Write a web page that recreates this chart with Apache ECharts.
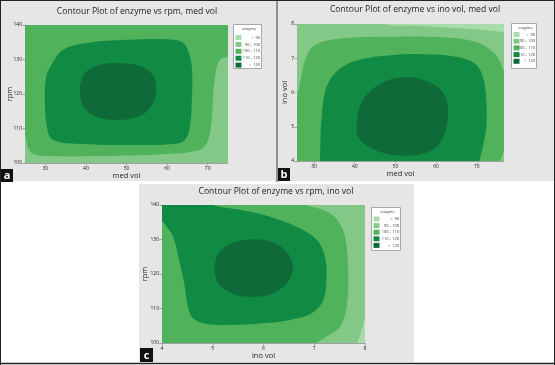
<!DOCTYPE html>
<html><head><meta charset="utf-8">
<script src="https://cdn.jsdelivr.net/npm/echarts@6/dist/echarts.min.js"></script>
<style>html,body{margin:0;padding:0;background:#fff}#c{width:555px;height:365px}</style>
</head><body><div id="c"></div>
<script>
// ---------- DATA ----------
const levelLabels = ['<  90', '90 \u2013 100', '100 \u2013 110', '110 \u2013 120', '>  120'];

// Panel a: enzyme vs rpm, med vol
const aTitle = 'Contour Plot of enzyme vs rpm, med vol';
const aXName = 'med vol', aYName = 'rpm';
const aXRange = [25, 75], aYRange = [100, 140];
const aXTicks = [30, 40, 50, 60, 70];
const aYTicks = [100, 110, 120, 130, 140];
const aLevel100_110 = [[25,100],[75,100],[75,140],[25,140]];
const aLevel90_100 = [[78,132.5],[75,130.7],[73,129.9],[71.8,124.9],[71.3,118.3],[70.8,110.4],[69.8,105.8],[68.1,103.8],[60,102.6],[43.5,102.0],[31.2,102.0],[27,102.6],[25.7,104.6],[25,108.1],[23,111],[22,97],[78,97]];
const aLevel110_120 = [[31.2,127.8],[34.4,132.8],[40.3,134.8],[50.1,135.7],[60.0,135.9],[63.7,135.1],[65.1,132.8],[66.1,127.8],[66.1,118.3],[65.6,110.4],[64.4,106.7],[61.5,105.5],[51.6,105.2],[39.3,105.5],[31.9,106.7],[30.4,110.4],[29.9,118.3],[30.2,124.9]];
const aLevelAbove120 = [[38.5,121.2],[39.8,126.1],[43.5,128.4],[47.9,129.0],[53.3,128.1],[56.5,125.5],[57.3,121.7],[56.5,117.4],[53.8,113.9],[48.4,112.5],[42.7,113.3],[39.5,116.2]];

// Panel b: enzyme vs ino vol, med vol
const bTitle = 'Contour Plot of enzyme vs ino vol, med vol';
const bXName = 'med vol', bYName = 'ino vol';
const bXRange = [25.8, 76.7], bYRange = [4, 8];
const bXTicks = [30, 40, 50, 60, 70];
const bYTicks = [4, 5, 6, 7, 8];
const bLevel90_100 = [[25.8,4],[76.7,4],[76.7,8],[25.8,8]];
const bLevel100_110 = [[23,5.1],[25.73,5.88],[26.54,6.27],[27.76,6.95],[30.22,7.39],[36.77,7.58],[49.04,7.63],[61.31,7.61],[69.48,7.48],[74.39,7.14],[76.7,6.61],[79,5.8],[79,3.4],[23,3.4]];
const bLevel90_100corner = [[78,4.5],[76.7,4.28],[76.0,4.08],[75.6,3.9],[78,3.6]];
const bLevelBelow90 = [[44,8.4],[47.4,8.0],[55,7.95],[65,7.88],[72,7.82],[76.7,7.77],[79,7.72],[79,8.4]];
const bLevel110_120 = [[31.3,3.4],[31.44,4.0],[31.86,5.29],[33.09,6.17],[35.94,6.66],[40.84,6.95],[49.04,7.09],[57.21,7.12],[64.57,7.05],[69.48,6.85],[71.52,6.46],[72.35,5.78],[72.35,5.0],[71.52,4.42],[70.71,4.0],[70.6,3.4]];
const bLevelAbove120 = [[40.45,5.00],[41.26,5.59],[44.13,6.07],[48.21,6.36],[51.89,6.44],[56.40,6.39],[60.48,6.15],[62.54,5.78],[62.93,5.34],[62.12,4.81],[59.67,4.37],[54.76,4.17],[48.21,4.20],[43.30,4.42],[40.84,4.71]];

// Panel c: enzyme vs rpm, ino vol
const cTitle = 'Contour Plot of enzyme vs rpm, ino vol';
const cXName = 'ino vol', cYName = 'rpm';
const cXRange = [4, 8], cYRange = [100, 140];
const cXTicks = [4, 5, 6, 7, 8];
const cYTicks = [100, 110, 120, 130, 140];
const cLevel100_110 = [[4,100],[8,100],[8,140],[4,140]];
const cLevel90_100 = [[6.6,141.5],[6.85,140],[7.31,137.6],[7.54,133.7],[7.64,127.9],[7.67,118.3],[7.64,110.5],[7.51,104.7],[7.24,101.8],[7.05,100],[6.95,98.5],[8.5,98.5],[8.5,141.5]];
const cLevelBelow90 = [[8.5,107.5],[8.0,106.7],[7.95,104.5],[7.9,102],[7.84,100],[7.8,98.5],[8.5,98.5]];
const cLevel110_120 = [[5.0,141.5],[5.01,140],[5.53,138.6],[6.13,136.6],[6.65,133.7],[7.05,129.9],[7.21,125.0],[7.24,118.3],[7.18,112.5],[6.95,108.6],[6.52,106.7],[5.99,105.7],[5.34,105.2],[4.88,105.5],[4.61,107.2],[4.51,110.5],[4.45,116.3],[4.35,123.1],[4.22,130.8],[4.09,133.7],[4.0,135.2],[3.6,136],[3.6,141.5]];
const cLevelAbove120 = [[5.04,122.1],[5.11,126.0],[5.34,128.7],[5.67,129.9],[6.06,129.7],[6.39,127.4],[6.55,124.1],[6.57,120.7],[6.46,117.3],[6.19,114.4],[5.86,113.4],[5.47,113.9],[5.17,116.3],[5.06,119.2]];

// level index of each region (0:<90 ... 4:>120), drawn in order
const aRegions = [[2, aLevel100_110], [1, aLevel90_100], [3, aLevel110_120], [4, aLevelAbove120]];
const bRegions = [[1, bLevel90_100], [2, bLevel100_110], [1, bLevel90_100corner], [0, bLevelBelow90], [3, bLevel110_120], [4, bLevelAbove120]];
const cRegions = [[2, cLevel100_110], [1, cLevel90_100], [0, cLevelBelow90], [3, cLevel110_120], [4, cLevelAbove120]];

// ---------- STYLE / LAYOUT ----------
const FONT = 'Open Sans';
const levelColors = ['#a9dcab', '#84c887', '#50b25b', '#118a44', '#0e6a39'];
const PANEL_BG = '#e6e6e6';

function regionSeries(idx, regions, xr, yr) {
  return {
    type: 'custom', xAxisIndex: idx, yAxisIndex: idx, clip: true, silent: true,
    data: regions.map(() => [xr[0], yr[0]]),
    renderItem: (params, api) => {
      const r = regions[params.dataIndex];
      return {
        type: 'polygon',
        shape: { points: r[1].map(p => api.coord(p)), smooth: params.dataIndex === 0 ? 0 : 0.35 },
        style: { fill: levelColors[r[0]] }
      };
    }
  };
}
function mkAxis(idx, range, ticks, name, gap) {
  return {
    type: 'value', gridIndex: idx, min: range[0], max: range[1],
    name: name, nameLocation: 'middle', nameGap: gap, nameMoveOverlap: false,
    nameTextStyle: { fontSize: 7.5, color: '#222', fontFamily: FONT },
    axisLine: { show: true, onZero: false, lineStyle: { color: '#a0a0a0', width: 1 } },
    axisTick: { show: true, length: 2.5, lineStyle: { color: '#a0a0a0' }, customValues: ticks },
    axisLabel: { fontSize: 5, color: '#222', margin: 3, fontFamily: FONT, customValues: ticks },
    splitLine: { show: false }
  };
}
function legend(x, y, w, h, rowTop, rowStep) {
  const ch = [
    { type: 'rect', shape: { x: x + 0.5, y: y + 0.5, width: w, height: h }, style: { fill: '#fff', stroke: '#a8a8a8', lineWidth: 1 } },
    { type: 'text', x: x + w / 2 + 2, y: y + 3, style: { text: 'enzyme', font: '4px ' + FONT, fill: '#333', textAlign: 'center', textVerticalAlign: 'top' } }
  ];
  levelLabels.forEach((t, i) => {
    const ry = y + rowTop + i * rowStep;
    ch.push({ type: 'rect', shape: { x: x + 2.5, y: ry - 2.5, width: 6, height: 5 }, style: { fill: levelColors[i] } });
    ch.push({ type: 'text', x: x + w - 1, y: ry, style: { text: t, font: '3.9px ' + FONT, fill: '#333', textAlign: 'right', textVerticalAlign: 'middle' } });
  });
  return { type: 'group', z: 20, children: ch };
}
function title(cx, cy, t) {
  return { type: 'text', z: 20, x: cx, y: cy, style: { text: t, font: '8.6px ' + FONT, fill: '#222', textAlign: 'center', textVerticalAlign: 'middle' } };
}
function tag(x, y, w, h, t) {
  return { type: 'group', z: 20, children: [
    { type: 'rect', shape: { x: x, y: y, width: w, height: h }, style: { fill: '#111' } },
    { type: 'text', x: x + w / 2, y: y + h / 2 + 0.5, style: { text: t, font: 'bold 11px ' + FONT, fill: '#fff', textAlign: 'center', textVerticalAlign: 'middle' } }
  ] };
}

const chart = echarts.init(document.getElementById('c'), null, { renderer: 'canvas' });
chart.setOption({
  animation: false,
  backgroundColor: '#fff',
  grid: [
    { left: 25, top: 25, width: 203, height: 138 },
    { left: 297, top: 24, width: 207, height: 137 },
    { left: 162, top: 205, width: 203, height: 138 }
  ],
  xAxis: [mkAxis(0, aXRange, aXTicks, aXName, 9), mkAxis(1, bXRange, bXTicks, bXName, 9), mkAxis(2, cXRange, cXTicks, cXName, 9)],
  yAxis: [mkAxis(0, aYRange, aYTicks, aYName, 11), mkAxis(1, bYRange, bYTicks, bYName, 8), mkAxis(2, cYRange, cYTicks, cYName, 13)],
  series: [regionSeries(0, aRegions, aXRange, aYRange), regionSeries(1, bRegions, bXRange, bYRange), regionSeries(2, cRegions, cXRange, cYRange)],
  graphic: [
    { type: 'rect', z: -10, shape: { x: 1, y: 1, width: 275, height: 180 }, style: { fill: PANEL_BG } },
    { type: 'rect', z: -10, shape: { x: 278, y: 1, width: 276, height: 180 }, style: { fill: PANEL_BG } },
    { type: 'rect', z: -10, shape: { x: 139, y: 184, width: 275, height: 178 }, style: { fill: PANEL_BG } },
    { type: 'line', z: 20, shape: { x1: 0, y1: 0.5, x2: 555, y2: 0.5 }, style: { stroke: '#222', lineWidth: 1 } },
    { type: 'line', z: 20, shape: { x1: 0.5, y1: 0, x2: 0.5, y2: 365 }, style: { stroke: '#222', lineWidth: 1 } },
    { type: 'line', z: 20, shape: { x1: 554.5, y1: 0, x2: 554.5, y2: 365 }, style: { stroke: '#222', lineWidth: 1 } },
    { type: 'line', z: 20, shape: { x1: 0, y1: 363.5, x2: 555, y2: 363.5 }, style: { stroke: '#222', lineWidth: 1.5 } },
    { type: 'line', z: 20, shape: { x1: 277, y1: 0, x2: 277, y2: 182 }, style: { stroke: '#222', lineWidth: 1 } },
    title(137, 12, aTitle), title(415, 10, bTitle), title(276, 192, cTitle),
    legend(233, 24, 28, 44, 13.5, 6.9), legend(511, 23, 25, 45, 11.5, 6.7), legend(371, 207, 29, 43, 12, 6.6),
    tag(1, 169, 12, 13, 'a'), tag(278, 168, 12, 13, 'b'), tag(140, 348, 13, 14, 'c')
  ]
});
</script></body></html>
